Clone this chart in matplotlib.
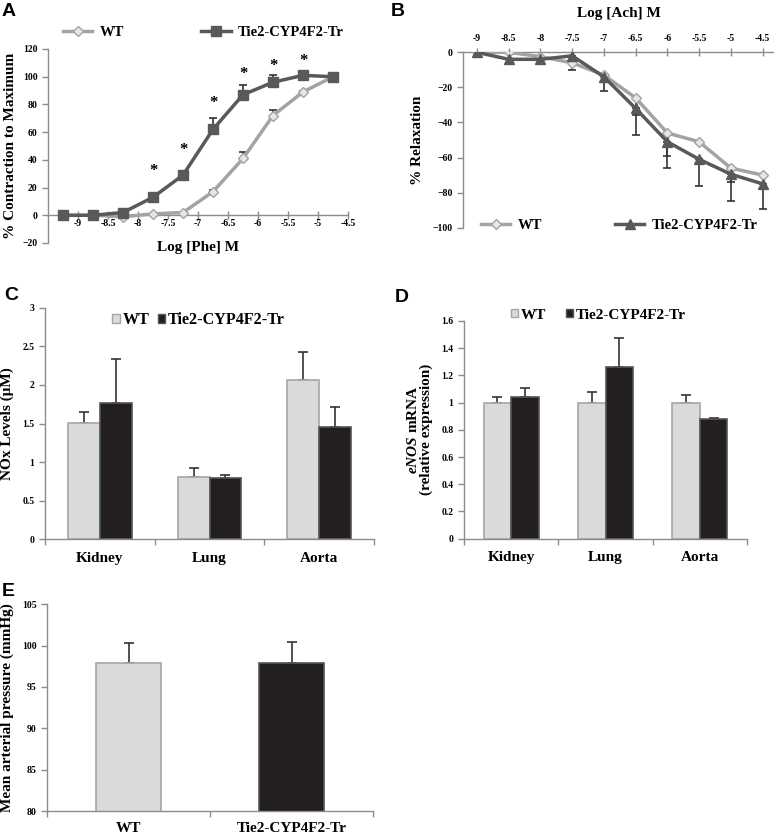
import matplotlib
matplotlib.use("Agg")
import matplotlib.pyplot as plt
from matplotlib.patches import Patch
import numpy as np

plt.rcParams['font.family'] = ['Liberation Serif', 'DejaVu Serif']
plt.rcParams['font.weight'] = 'bold'
plt.rcParams['mathtext.fontset'] = 'custom'
plt.rcParams['mathtext.it'] = 'Liberation Serif:italic:bold'
plt.rcParams['mathtext.rm'] = 'Liberation Serif:bold'

# ---------------- data ----------------
# Panel A
phe_log = [-9.25, -8.75, -8.25, -7.75, -7.25, -6.75, -6.25, -5.75, -5.25, -4.75]
phe_wt = [0, 0, -1, 1, 2, 17, 41, 72, 89, 100]
phe_wt_err = [0, 0, 0, 0, 0.5, 1, 5, 4, 1, 0]
phe_tg = [0, 0, 2, 13, 29, 62, 87, 96, 101, 100]
phe_tg_err = [0, 0, 0.5, 1.5, 3, 8, 7, 5, 1, 0]
star_x = [-7.75, -7.25, -6.75, -6.25, -5.75, -5.25]
star_y = [32, 47, 81, 102, 108, 111]
phe_ticks = [-9, -8.5, -8, -7.5, -7, -6.5, -6, -5.5, -5, -4.5]

# Panel B
ach_log = [-9, -8.5, -8, -7.5, -7, -6.5, -6, -5.5, -5, -4.5]
ach_wt = [0, 0, -2.5, -6, -13, -26, -46, -51, -66, -70]
ach_wt_err = [0, 0, 0, 0, 0, 10, 13, 0, 8, 0]
ach_tg = [0, -4, -4, -2, -14, -32, -51, -61, -69.5, -75]
ach_tg_err = [0, 0, 0, 8, 8, 15, 15, 15, 15.5, 14.5]

# Panel C
tissues = ["Kidney", "Lung", "Aorta"]
nox_wt = [1.51, 0.81, 2.06]
nox_wt_err = [0.14, 0.12, 0.37]
nox_tg = [1.76, 0.80, 1.45]
nox_tg_err = [0.58, 0.03, 0.27]

# Panel D
enos_wt = [1.0, 1.0, 1.0]
enos_wt_err = [0.04, 0.075, 0.054]
enos_tg = [1.045, 1.265, 0.877]
enos_tg_err = [0.065, 0.21, 0.008]

# Panel E
groups = ["WT", "Tie2-CYP4F2-Tr"]
map_vals = [97.9, 97.9]
map_err = [2.45, 2.55]

# ---------------- style ----------------
W, H = 774, 839
fig = plt.figure(figsize=(W / 100, H / 100), dpi=100)

def add_ax(l, r, t, b):
    return fig.add_axes([l / W, 1 - b / H, (r - l) / W, (b - t) / H])

WT_LINE = '#a3a3a3'
WT_FACE = '#e6e6e6'
TG_LINE = '#595959'
BAR_WT = '#d9dadc'
BAR_WT_EDGE = '#a6a6a6'
BAR_TG = '#231f20'
BAR_TG_EDGE = '#555555'
AXC = '#8c8c8c'
TICK_FS = 7
LAB_FS = 11
LEG_FS = 10.5

def style_axes(ax):
    for s in ax.spines.values():
        s.set_color(AXC)
        s.set_linewidth(1.0)
    ax.tick_params(colors=AXC, labelcolor='black', labelsize=TICK_FS, width=1.0, length=4)
    for lbl in ax.get_xticklabels() + ax.get_yticklabels():
        lbl.set_fontweight('bold')

def panel_letter(x, y, s):
    fig.text(x / W, 1 - y / H, s, fontsize=14, fontweight='bold',
             family=['Liberation Sans'], ha='left', va='center')

# ---------------- Panel A ----------------
axA = add_ax(48, 348, 49, 243)
axA.errorbar(phe_log, phe_wt, yerr=[np.zeros(len(phe_wt_err)), phe_wt_err], fmt='none',
             ecolor='#333333', elinewidth=1.2, capsize=3, capthick=1.2, zorder=2)
axA.errorbar(phe_log, phe_tg, yerr=[np.zeros(len(phe_tg_err)), phe_tg_err], fmt='none',
             ecolor='#333333', elinewidth=1.2, capsize=3, capthick=1.2, zorder=2)
axA.plot(phe_log, phe_wt, color=WT_LINE, lw=2.5, marker='D', ms=5.5,
         mfc=WT_FACE, mec=WT_LINE, mew=1, zorder=3, label='WT')
axA.plot(phe_log, phe_tg, color=TG_LINE, lw=2.5, marker='s', ms=7.5,
         mfc=TG_LINE, mec=TG_LINE, zorder=4, label='Tie2-CYP4F2-Tr')
for sx, sy in zip(star_x, star_y):
    axA.text(sx, sy, '*', ha='center', va='center', fontsize=12, fontweight='bold')
axA.set_xlim(-9.5, -4.5)
axA.set_ylim(-20, 120)
axA.set_yticks(range(-20, 121, 20))
axA.set_xticks(phe_ticks)
axA.set_xticklabels([f"{t:g}" for t in phe_ticks])
axA.spines['top'].set_visible(False)
axA.spines['right'].set_visible(False)
axA.spines['bottom'].set_position(('data', 0))
style_axes(axA)
axA.tick_params(axis='x', direction='inout', length=6, pad=0)
axA.set_xlabel('Log [Phe] M', fontsize=LAB_FS, fontweight='bold')
axA.xaxis.set_label_coords(0.5, 0.01)
axA.set_ylabel('% Contraction to Maximum', fontsize=LAB_FS, fontweight='bold', labelpad=4)
axA.legend(loc='lower left', bbox_to_anchor=(0.017, 1.0), ncol=2, frameon=False,
           handlelength=2.0, columnspacing=5.3, handletextpad=0.5,
           prop={'size': LEG_FS, 'weight': 'bold'}, borderaxespad=0.3)
panel_letter(2, 12, 'A')

# ---------------- Panel B ----------------
axB = add_ax(463, 774, 52.3, 227.7)
axB.errorbar(ach_log, ach_wt, yerr=[ach_wt_err, np.zeros(len(ach_wt_err))], fmt='none',
             ecolor='#333333', elinewidth=1.2, capsize=3, capthick=1.2, zorder=2)
axB.errorbar(ach_log, ach_tg, yerr=[ach_tg_err, np.zeros(len(ach_tg_err))], fmt='none',
             ecolor='#333333', elinewidth=1.2, capsize=3, capthick=1.2, zorder=2)
axB.plot(ach_log, ach_wt, color=WT_LINE, lw=2.5, marker='D', ms=5.5,
         mfc=WT_FACE, mec=WT_LINE, mew=1, zorder=3, label='WT')
axB.plot(ach_log, ach_tg, color=TG_LINE, lw=2.5, marker='^', ms=7.5,
         mfc=TG_LINE, mec=TG_LINE, zorder=4, label='Tie2-CYP4F2-Tr')
axB.set_xlim(-9.22, -4.32)
axB.set_ylim(-100, 0)
axB.set_yticks(range(-100, 1, 20))
axB.set_xticks(ach_log)
axB.set_xticklabels([f"{t:g}" for t in ach_log])
axB.xaxis.tick_top()
axB.xaxis.set_label_position('top')
axB.spines['bottom'].set_visible(False)
axB.spines['right'].set_visible(False)
style_axes(axB)
axB.tick_params(axis='x', direction='inout', length=6, pad=4)
axB.set_xlabel('Log [Ach] M', fontsize=LAB_FS, fontweight='bold', labelpad=12)
axB.set_ylabel('% Relaxation', fontsize=LAB_FS, fontweight='bold', labelpad=6)
axB.legend(loc='lower left', bbox_to_anchor=(0.04, -0.06), ncol=2, frameon=False,
           handlelength=2.0, columnspacing=5.0, handletextpad=0.5,
           prop={'size': LEG_FS, 'weight': 'bold'}, borderaxespad=0.0)
panel_letter(391, 12, 'B')

# ---------------- bar helper ----------------
def bar_panel(ax, wt, wt_err, tg, tg_err, width):
    x = np.arange(len(wt))
    ax.bar(x - width / 2, wt, width, color=BAR_WT, edgecolor=BAR_WT_EDGE, lw=1.2, zorder=2)
    ax.bar(x + width / 2, tg, width, color=BAR_TG, edgecolor=BAR_TG_EDGE, lw=1.2, zorder=2)
    ax.errorbar(x - width / 2, wt, yerr=[np.zeros(len(wt)), wt_err], fmt='none',
                ecolor='#333333', elinewidth=1.2, capsize=3.5, capthick=1.2, zorder=1)
    ax.errorbar(x + width / 2, tg, yerr=[np.zeros(len(tg)), tg_err], fmt='none',
                ecolor='#333333', elinewidth=1.2, capsize=3.5, capthick=1.2, zorder=1)
    ax.set_xlim(-0.5, len(wt) - 0.5)
    ax.spines['top'].set_visible(False)
    ax.spines['right'].set_visible(False)
    ax.set_xticks(np.arange(len(wt) + 1) - 0.5)
    ax.set_xticklabels([])
    ax.set_xticks(x, minor=True)
    return x

legh = [Patch(facecolor=BAR_WT, edgecolor=BAR_WT_EDGE), Patch(facecolor=BAR_TG, edgecolor=BAR_TG_EDGE)]

# ---------------- Panel C ----------------
axC = add_ax(45, 374, 307.7, 539.3)
bar_panel(axC, nox_wt, nox_wt_err, nox_tg, nox_tg_err, 0.29)
axC.set_xticklabels(tissues, minor=True)
axC.set_ylim(0, 3)
axC.set_yticks([0, 0.5, 1, 1.5, 2, 2.5, 3])
axC.set_yticklabels(['0', '0.5', '1', '1.5', '2', '2.5', '3'])
style_axes(axC)
axC.tick_params(axis='x', which='minor', length=0, pad=9, labelsize=11)
for l in axC.get_xticklabels(minor=True):
    l.set_fontweight('bold')
axC.set_ylabel('NOx Levels (μM)', fontsize=LAB_FS, fontweight='bold', labelpad=6)
axC.legend(legh, ['WT', 'Tie2-CYP4F2-Tr'], loc='center', bbox_to_anchor=(0.467, 0.947), ncol=2,
           frameon=False, handlelength=0.45, handleheight=0.45, handletextpad=0.2, columnspacing=0.5,
           prop={'size': 11.6, 'weight': 'bold'})
panel_letter(4, 295, 'C')

# ---------------- Panel D ----------------
axD = add_ax(464, 747, 321, 538.7)
bar_panel(axD, enos_wt, enos_wt_err, enos_tg, enos_tg_err, 0.29)
axD.set_xticklabels(tissues, minor=True)
axD.set_ylim(0, 1.6)
axD.set_yticks([0, 0.2, 0.4, 0.6, 0.8, 1.0, 1.2, 1.4, 1.6])
axD.set_yticklabels(['0', '0.2', '0.4', '0.6', '0.8', '1', '1.2', '1.4', '1.6'])
style_axes(axD)
axD.tick_params(axis='x', which='minor', length=0, pad=9, labelsize=11)
for l in axD.get_xticklabels(minor=True):
    l.set_fontweight('bold')
axD.set_ylabel(r'$eNOS$ mRNA' + '\n(relative expression)', fontsize=LAB_FS, fontweight='bold',
               labelpad=6, linespacing=1.0)
axD.legend(legh, ['WT', 'Tie2-CYP4F2-Tr'], loc='center', bbox_to_anchor=(0.475, 1.027), ncol=2,
           frameon=False, handlelength=0.45, handleheight=0.45, handletextpad=0.2, columnspacing=1.3,
           prop={'size': 11, 'weight': 'bold'})
panel_letter(395, 298, 'D')

# ---------------- Panel E ----------------
axE = add_ax(47, 373, 604.3, 811)
xe = np.arange(len(groups))
axE.bar(xe, map_vals, 0.4, color=[BAR_WT, BAR_TG], edgecolor=[BAR_WT_EDGE, BAR_TG_EDGE], lw=1.2, zorder=2)
axE.errorbar(xe, map_vals, yerr=[np.zeros(len(map_err)), map_err], fmt='none',
             ecolor='#333333', elinewidth=1.2, capsize=3.5, capthick=1.2, zorder=1)
axE.set_xlim(-0.5, len(groups) - 0.5)
axE.set_ylim(80, 105)
axE.set_yticks(range(80, 106, 5))
axE.spines['top'].set_visible(False)
axE.spines['right'].set_visible(False)
axE.set_xticks(np.arange(len(groups) + 1) - 0.5)
axE.set_xticklabels([])
axE.set_xticks(xe, minor=True)
axE.set_xticklabels(groups, minor=True)
style_axes(axE)
axE.tick_params(axis='x', which='minor', length=0, pad=8, labelsize=11)
for l in axE.get_xticklabels(minor=True):
    l.set_fontweight('bold')
axE.set_ylabel('Mean arterial pressure (mmHg)', fontsize=LAB_FS, fontweight='bold', labelpad=6)
panel_letter(2, 592, 'E')

fig.savefig('out.png', dpi=100)
